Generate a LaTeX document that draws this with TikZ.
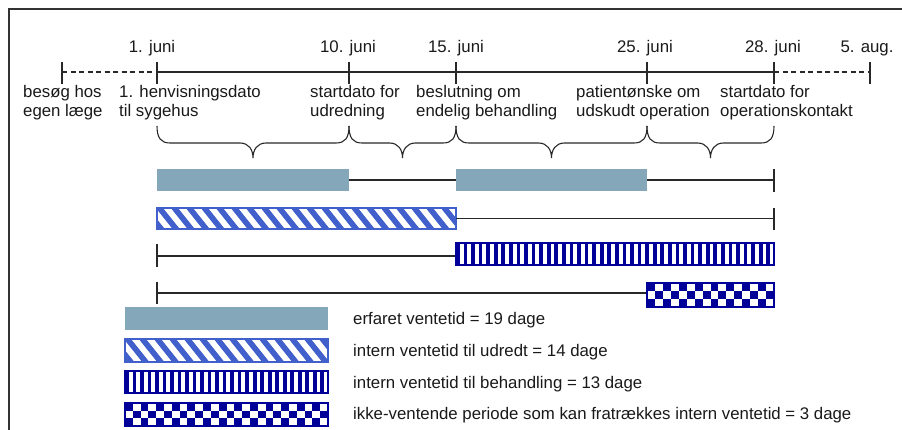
\documentclass[tikz,border=0pt]{standalone}
\usepackage{fontspec}
\setmainfont{Liberation Sans}
\definecolor{gb}{RGB}{132,168,186}
\definecolor{hb}{RGB}{66,96,204}
\definecolor{db}{RGB}{0,0,153}
\definecolor{ln}{RGB}{40,40,40}

% diagonal hatch bar
\newcommand\rkhatchbar[4]{%
  \fill[white] (#1,#2) rectangle (#3,#4);
  \begin{scope}
    \clip (#1,#2) rectangle (#3,#4);
    \pgfmathtruncatemacro\rkhn{(#3-#1)/15+4}
    \foreach \k in {0,...,\rkhn}{
      \draw[hb,line width=5.6] ({#1-30+15*\k},{#2-3}) -- ({#1-30+15*\k+0.8*(#4-#2+6)},{#4+3});
    }
  \end{scope}
  \draw[hb,line width=1.4] (#1,#2) rectangle (#3,#4);
}
% vertical stripe bar
\newcommand\rkvbar[4]{%
  \fill[white] (#1,#2) rectangle (#3,#4);
  \pgfmathtruncatemacro\rkvn{round((#3-#1)/7.55)}
  \pgfmathsetmacro\rkvw{(#3-#1)/\rkvn}
  \foreach \k in {1,...,\rkvn}{
    \fill[db] ({#1+(\k-1)*\rkvw},#2) rectangle ++(3.7,{#4-#2});
  }
  \draw[db,line width=1.4] (#1,#2) rectangle (#3,#4);
}
% checker bar
\newcommand\rkcbar[4]{%
  \fill[white] (#1,#2) rectangle (#3,#4);
  \pgfmathtruncatemacro\rkcn{round((#3-#1)/7.8)}
  \pgfmathsetmacro\rkcw{(#3-#1)/\rkcn}
  \pgfmathsetmacro\rkch{(#4-#2)/3}
  \foreach \i in {1,...,\rkcn}{
    \foreach \j in {1,2,3}{
      \pgfmathtruncatemacro\rkpp{mod(\i+\j,2)}
      \ifnum\rkpp=0
        \fill[db] ({#1+(\i-1)*\rkcw},{#2+(\j-1)*\rkch}) rectangle ++(\rkcw,\rkch);
      \fi
    }
  }
  \draw[db,line width=1.4] (#1,#2) rectangle (#3,#4);
}
% curly brace, top y=126, flat 143, tip 158
\newcommand\rkbrace[2]{%
  \pgfmathsetmacro\rkm{(#1+#2)/2}
  \draw[ln,line width=1.1] (#1,126) .. controls (#1,138) and (#1+4,143) .. ({#1+13},143)
    -- ({\rkm-13},143) .. controls ({\rkm-4},143) and (\rkm,150) .. (\rkm,158)
    .. controls (\rkm,150) and ({\rkm+4},143) .. ({\rkm+13},143)
    -- ({#2-13},143) .. controls ({#2-4},143) and (#2,138) .. (#2,126);
}

\begin{document}
\begin{tikzpicture}[x=1pt,y=-1pt,
  lbl/.style={inner sep=0pt,anchor=base west,font=\fontsize{16.8}{19}\selectfont,text=black!90},
  dlbl/.style={inner sep=0pt,anchor=base,font=\fontsize{16.8}{19}\selectfont,text=black!90},
  conn/.style={draw=ln,line width=1.2},
  dashconn/.style={draw=ln,line width=1.2,dash pattern=on 5pt off 3.5pt}]
\useasboundingbox (0,0) rectangle (902,430);

% frame
\draw[line width=1.5,black!80] (9,430) -- (9,9) -- (902,9);

% timeline ticks
\foreach \n/\x in {a/62,b/157,c/349,d/456,e/647,f/774,g/870}{
  \coordinate (t\n) at (\x,72);
  \coordinate (t\n u) at (\x,62);
  \coordinate (t\n d) at (\x,84);
  \draw[conn] (t\n u) -- (t\n d);
}
\draw[dashconn] (ta) -- (tb);
\draw[conn] (tb) -- (tf);
\draw[dashconn] (tf) -- (tg);

% dates
\node[dlbl] (d1) at (152,52.5) {1. juni};
\node[dlbl] (d2) at (348,52.5) {10. juni};
\node[dlbl] (d3) at (456,52.5) {15. juni};
\node[dlbl] (d4) at (645,52.5) {25. juni};
\node[dlbl] (d5) at (773,52.5) {28. juni};
\node[dlbl] (d6) at (867,52.5) {5. aug.};

% event labels
\node[lbl] (e1a) at (23,98) {besøg hos};
\node[lbl] (e1b) at (23,117) {egen læge};
\node[lbl] (e2a) at (119,98) {1. henvisningsdato};
\node[lbl] (e2b) at (119,117) {til sygehus};
\node[lbl] (e3a) at (310,98) {startdato for};
\node[lbl] (e3b) at (310,117) {udredning};
\node[lbl] (e4a) at (416,98) {beslutning om};
\node[lbl] (e4b) at (416,117) {endelig behandling};
\node[lbl] (e5a) at (576,98) {patientønske om};
\node[lbl] (e5b) at (576,117) {udskudt operation};
\node[lbl] (e6a) at (720,98) {startdato for};
\node[lbl] (e6b) at (720,117) {operationskontakt};

% braces
\rkbrace{157}{349}
\rkbrace{349}{456}
\rkbrace{456}{647}
\rkbrace{647}{774}

% row 1
\fill[gb] (157,169) rectangle (349,191);
\fill[gb] (456,169) rectangle (647,191);
\coordinate (r1a) at (349,180);
\coordinate (r1b) at (456,180);
\coordinate (r1c) at (647,180);
\coordinate (r1d) at (774,180);
\draw[conn] (r1a) -- (r1b);
\draw[conn] (r1c) -- (r1d);
\draw[conn] (774,169) -- (774,192);

% row 2
\rkhatchbar{157}{208}{456}{229}
\coordinate (r2a) at (456,218.5);
\coordinate (r2b) at (774,218.5);
\draw[conn] (r2a) -- (r2b);
\draw[conn] (774,208) -- (774,230);

% row 3
\coordinate (r3a) at (157,256);
\coordinate (r3b) at (456,256);
\draw[conn] (157,244) -- (157,267);
\draw[conn] (r3a) -- (r3b);
\rkvbar{456}{243}{774}{265}

% row 4
\coordinate (r4a) at (157,293);
\coordinate (r4b) at (647,293);
\draw[conn] (157,282) -- (157,304);
\draw[conn] (r4a) -- (r4b);
\rkcbar{647}{283}{774}{307}

% legend
\fill[gb] (125,307) rectangle (328,330);
\rkhatchbar{125}{339}{328}{362}
\rkvbar{125}{371}{328}{393}
\rkcbar{125}{403}{328}{426}
\node[lbl] (l1) at (353,324) {erfaret ventetid = 19 dage};
\node[lbl] (l2) at (353,356) {intern ventetid til udredt = 14 dage};
\node[lbl] (l3) at (353,388) {intern ventetid til behandling = 13 dage};
\node[lbl] (l4) at (353,419) {ikke-ventende periode som kan fratrækkes intern ventetid = 3 dage};
\end{tikzpicture}
\end{document}
